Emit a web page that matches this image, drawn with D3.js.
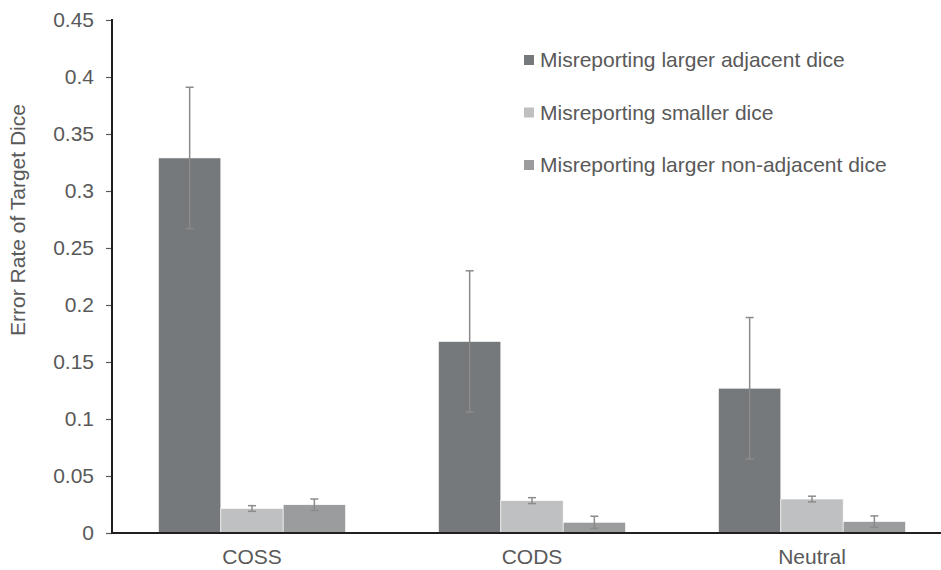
<!DOCTYPE html>
<html><head><meta charset="utf-8">
<script src="https://cdn.jsdelivr.net/npm/d3@7"></script>
<style>html,body{margin:0;padding:0;background:#fff}svg{display:block;font-family:"Liberation Sans",Arial,sans-serif}</style>
</head><body>
<svg id="chart" width="941" height="570"></svg>
<script>
const categories = ["COSS", "CODS", "Neutral"];
const seriesNames = ["Misreporting larger adjacent dice", "Misreporting smaller dice", "Misreporting larger non-adjacent dice"];
const adjacentValues = [0.329, 0.168, 0.127];
const adjacentErrors = [0.062, 0.062, 0.062];
const smallerValues = [0.0215, 0.0284, 0.0298];
const smallerErrors = [0.0025, 0.0026, 0.0025];
const nonAdjacentValues = [0.0248, 0.0094, 0.0100];
const nonAdjacentErrors = [0.005, 0.0053, 0.005];
const yTicks = [0, 0.05, 0.1, 0.15, 0.2, 0.25, 0.3, 0.35, 0.4, 0.45];
const yTickLabels = ["0", "0.05", "0.1", "0.15", "0.2", "0.25", "0.3", "0.35", "0.4", "0.45"];
const colors = ["#76797c", "#bfc0c1", "#9a9c9e"];

const values = [adjacentValues, smallerValues, nonAdjacentValues];
const errors = [adjacentErrors, smallerErrors, nonAdjacentErrors];

const svg = d3.select("#chart");
const mLeft = 112, mBottom = 533, mTop = 20;
const fontSize = "21px";

const y = d3.scaleLinear().domain([0, 0.45]).range([mBottom, mTop]);
const x0 = d3.scaleBand().domain(categories).range([mLeft, mLeft + 840]).paddingInner(0.332).paddingOuter(0.166);
const x1 = d3.scaleBand().domain(d3.range(seriesNames.length)).range([0, x0.bandwidth()]);

const data = [];
categories.forEach((c, ci) => seriesNames.forEach((s, si) => {
  data.push({c, si, v: values[si][ci], e: errors[si][ci]});
}));

// bars
svg.append("g").selectAll("rect").data(data).join("rect")
  .attr("x", d => x0(d.c) + x1(d.si))
  .attr("y", d => y(d.v))
  .attr("width", x1.bandwidth())
  .attr("height", d => y(0) - y(d.v))
  .attr("fill", d => colors[d.si])
  .attr("stroke", "#ffffff").attr("stroke-width", 0.6);

// error bars
const eg = svg.append("g").attr("stroke", "#8b8b8b").attr("stroke-width", 1.5).attr("fill", "none");
data.forEach(d => {
  const cx = x0(d.c) + x1(d.si) + x1.bandwidth() / 2;
  eg.append("line").attr("x1", cx).attr("x2", cx).attr("y1", y(d.v + d.e)).attr("y2", y(d.v - d.e));
  eg.append("line").attr("x1", cx - 4).attr("x2", cx + 4).attr("y1", y(d.v + d.e)).attr("y2", y(d.v + d.e));
  eg.append("line").attr("x1", cx - 4).attr("x2", cx + 4).attr("y1", y(d.v - d.e)).attr("y2", y(d.v - d.e));
});

// y axis
const yAxis = d3.axisLeft(y).tickValues(yTicks).tickFormat((d, i) => yTickLabels[i]).tickSize(6).tickPadding(12);
const yg = svg.append("g").attr("transform", `translate(${mLeft},0)`).call(yAxis);
yg.select(".domain").remove();
yg.selectAll(".tick line").attr("stroke", "#595959").attr("stroke-width", 1.2);
yg.selectAll(".tick text").attr("fill", "#595959").style("font-size", fontSize).style("font-family", "'Liberation Sans', Arial, sans-serif");
svg.append("line").attr("x1", mLeft).attr("x2", mLeft).attr("y1", mTop - 1).attr("y2", mBottom + 1)
  .attr("stroke", "#231f20").attr("stroke-width", 2);

// x axis
const xAxis = d3.axisBottom(x0).tickSize(0).tickPadding(16);
const xg = svg.append("g").attr("transform", `translate(0,${mBottom})`).call(xAxis);
xg.select(".domain").remove();
xg.selectAll(".tick text").attr("fill", "#595959").style("font-size", fontSize).style("font-family", "'Liberation Sans', Arial, sans-serif");
svg.append("line").attr("x1", mLeft - 1).attr("x2", 941).attr("y1", mBottom).attr("y2", mBottom)
  .attr("stroke", "#231f20").attr("stroke-width", 2);

// y title
svg.append("text").attr("transform", "translate(25,220) rotate(-90)")
  .attr("text-anchor", "middle").attr("fill", "#595959").style("font-size", fontSize)
  .text("Error Rate of Target Dice");

// legend
const lg = svg.append("g").attr("transform", "translate(524,60)");
seriesNames.forEach((s, i) => {
  const g = lg.append("g").attr("transform", `translate(0,${i * 52.5})`);
  g.append("rect").attr("x", 0).attr("y", -5).attr("width", 10).attr("height", 10).attr("fill", colors[i]);
  g.append("text").attr("x", 16).attr("y", 0).attr("dy", "0.35em").attr("fill", "#595959").style("font-size", fontSize).text(s);
});
</script>
</body></html>
